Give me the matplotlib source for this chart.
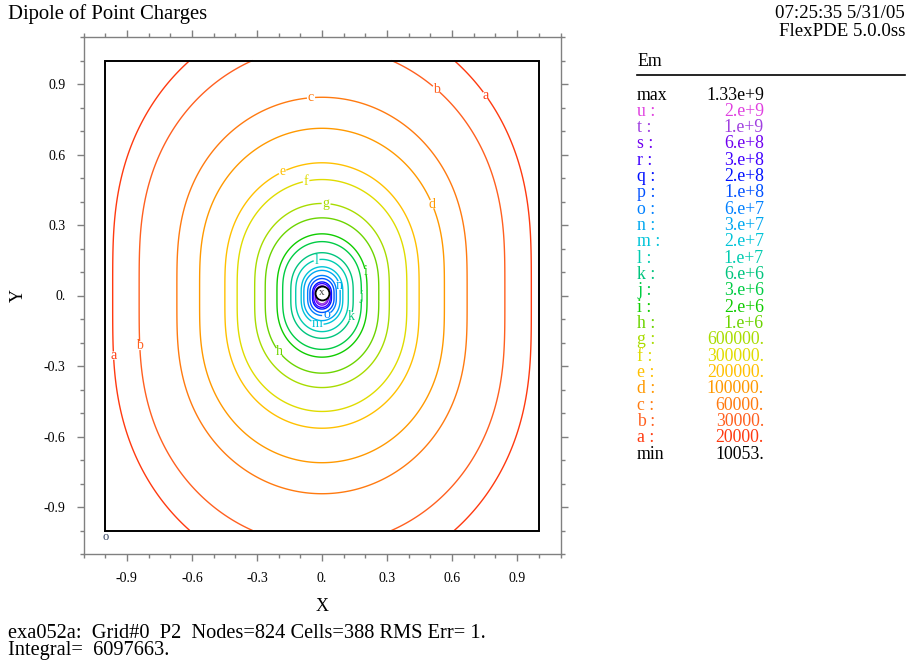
import numpy as np
import matplotlib
matplotlib.use('Agg')
import matplotlib.pyplot as plt
from matplotlib.ticker import FixedLocator, FuncFormatter

plt.rcParams['font.family'] = ['Liberation Serif', 'DejaVu Serif']

# ---------------- data ----------------
level_letters = list('abcdefghijklmnopqrstu')
level_values = [2e4, 3e4, 6e4, 1e5, 2e5, 3e5, 6e5, 1e6, 2e6, 3e6, 6e6,
                1e7, 2e7, 3e7, 6e7, 1e8, 2e8, 3e8, 6e8, 1e9, 2e9]
level_text = ['20000.', '30000.', '60000.', '100000.', '200000.', '300000.',
              '600000.', '1.e+6', '2.e+6', '3.e+6', '6.e+6', '1.e+7', '2.e+7',
              '3.e+7', '6.e+7', '1.e+8', '2.e+8', '3.e+8', '6.e+8', '1.e+9',
              '2.e+9']
level_colors = ['#ff3a10', '#ff6020', '#ff7a10', '#ff9900', '#ffc000',
                '#e0dc00', '#a8dc00', '#6cd400', '#10cc00', '#00cc44',
                '#00c47e', '#00ccb0', '#00c4d8', '#00a8f0', '#0080ff',
                '#0050ff', '#0010ff', '#4000ff', '#7000f0', '#a040e0',
                '#e040e0']
field_max = 1.33e9
field_min_text = '10053.'
field_max_text = '1.33e+9'

# two point charges forming the dipole (k*q), positions
charge_x = [0.0, 0.0]
charge_y = [0.01, -0.01]
charge_kq = [9.0e5, -9.0e5]

# contour label positions (approximate, per letter)
label_pos = {
    'a': [(0.749, 0.847), (-0.950, -0.255)],
    'b': [(0.521, 0.872), (-0.831, -0.213)],
    'c': [(-0.05, 0.834)],
    'd': [(0.503, 0.387)],
    'e': [(-0.178, 0.519)],
    'f': [(-0.073, 0.485)],
    'g': [(0.018, 0.379)],
    'h': [(-0.196, -0.238)],
    'i': [(0.206, 0.102)],
    'j': [(0.186, -0.004)],
    'k': [(0.136, -0.089)],
    'l': [(-0.024, 0.146)],
    'm': [(-0.023, -0.123)],
    'n': [(0.082, 0.043)],
    'o': [(0.023, -0.088)],
}

# ---------------- field ----------------
xs = np.linspace(-1, 1, 1001)
ys = np.linspace(-1, 1, 1001)
X, Y = np.meshgrid(xs, ys)
Ex = np.zeros_like(X)
Ey = np.zeros_like(X)
for cx, cy, kq in zip(charge_x, charge_y, charge_kq):
    dx = X - cx
    dy = Y - cy
    r3 = (dx**2 + dy**2 + 1e-12) ** 1.5
    Ex += kq * dx / r3
    Ey += kq * dy / r3
Em = np.minimum(np.hypot(Ex, Ey), field_max)

# ---------------- figure ----------------
fig = plt.figure(figsize=(9.07, 6.61), dpi=100)
ax = fig.add_axes([83.5 / 907, 1 - 554 / 661, 477 / 907, 517 / 661])
ax.set_xlim(-1.1, 1.1)
ax.set_ylim(-1.1, 1.1)

for letter, lv, col in zip(level_letters, level_values, level_colors):
    if lv > field_max:
        continue
    cs = ax.contour(X, Y, Em, levels=[lv], colors=[col], linewidths=1.0)
    if letter in label_pos:
        txts = ax.clabel(cs, fmt={lv: letter}, manual=label_pos[letter],
                         inline=True, inline_spacing=1, fontsize=10)
        for t in txts:
            t.set_rotation(0)

# domain box
ax.plot([-1, 1, 1, -1, -1], [-1, -1, 1, 1, -1], color='black', lw=1.4,
        solid_joinstyle='miter')

# max / min markers
ax.plot(0, 0.011, 'o', mfc='white', mec='black', ms=10, mew=1.3, zorder=5)
ax.text(0, 0.011, 'x', ha='center', va='center', fontsize=8, color='#404040',
        zorder=6)
ax.text(-1, -1, 'o', ha='center', va='top', fontsize=9, color='#304060')

# axes styling
for sp in ax.spines.values():
    sp.set_color('#808080')
    sp.set_linewidth(1.0)
major = [-0.9, -0.6, -0.3, 0.0, 0.3, 0.6, 0.9]
minor = [round(v, 1) for v in np.arange(-1.1, 1.101, 0.1)]
ax.xaxis.set_major_locator(FixedLocator(major))
ax.yaxis.set_major_locator(FixedLocator(major))
ax.xaxis.set_minor_locator(FixedLocator(minor))
ax.yaxis.set_minor_locator(FixedLocator(minor))
fmt = FuncFormatter(lambda v, p: '0.' if abs(v) < 1e-9 else ('%.1f' % v))
ax.xaxis.set_major_formatter(fmt)
ax.yaxis.set_major_formatter(fmt)
ax.tick_params(which='both', direction='out', color='#808080',
               top=True, right=True, labelsize=10, pad=8)
ax.tick_params(which='major', length=5, width=1)
ax.tick_params(which='minor', length=3, width=1)
ax.set_xlabel('X', fontsize=13)
ax.xaxis.set_label_coords(0.5, -(598 - 554) / 517)
ax.set_ylabel('Y', fontsize=13, va='center')
ax.yaxis.set_label_coords(-(83.5 - 18) / 477, 0.5)

# texts
fig.text(8 / 907, 1 - 14 / 661, 'Dipole of Point Charges', fontsize=14.9,
         ha='left', va='center')
fig.text(905 / 907, 1 - 14 / 661, '07:25:35 5/31/05', fontsize=13.6,
         ha='right', va='center')
fig.text(905 / 907, 1 - 31 / 661, 'FlexPDE 5.0.0ss', fontsize=13.6,
         ha='right', va='center')
fig.text(8 / 907, 1 - 633 / 661,
         'exa052a:  Grid#0  P2  Nodes=824 Cells=388 RMS Err= 1.',
         fontsize=14.7, ha='left', va='center')
fig.text(8 / 907, 1 - 651 / 661, 'Integral=  6097663.', fontsize=14.7,
         ha='left', va='center')

# legend
lx = 637 / 907
vx = 764 / 907
lfs = 12.8
fig.text(lx, 1 - 62 / 661, 'Em', fontsize=lfs, ha='left', va='center')
fig.add_artist(plt.Line2D([lx, 905 / 907], [1 - 75 / 661, 1 - 75 / 661],
                          color='black', lw=1.2, transform=fig.transFigure))
row0 = 95
dy = 16.32
fig.text(lx, 1 - row0 / 661, 'max', fontsize=lfs, ha='left', va='center')
fig.text(vx, 1 - row0 / 661, field_max_text, fontsize=lfs, ha='right',
         va='center')
n = len(level_letters)
for i in range(n):
    idx = n - 1 - i
    yy = 1 - (row0 + dy * (i + 1)) / 661
    fig.text(lx, yy, level_letters[idx] + ' :', fontsize=lfs, ha='left',
             va='center', color=level_colors[idx])
    fig.text(vx, yy, level_text[idx], fontsize=lfs, ha='right', va='center',
             color=level_colors[idx])
yy = 1 - (row0 + dy * (n + 1)) / 661
fig.text(lx, yy, 'min', fontsize=lfs, ha='left', va='center')
fig.text(vx, yy, field_min_text, fontsize=lfs, ha='right', va='center')

fig.savefig('out.png', dpi=100)
